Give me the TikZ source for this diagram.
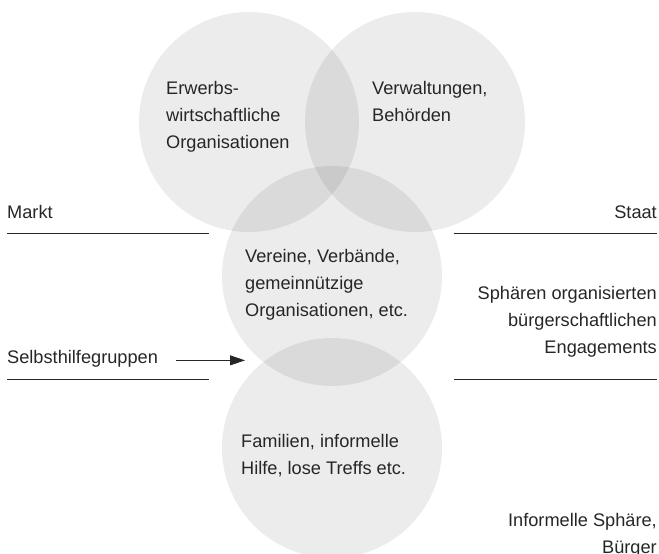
\documentclass[tikz,border=0pt]{standalone}
\usepackage{fontspec}
\setmainfont{Liberation Sans}
\usetikzlibrary{arrows.meta}
\definecolor{txt}{HTML}{262626}
\begin{document}
\begin{tikzpicture}[x=1pt,y=-1pt,
  sphere/.style={circle, minimum size=220pt, inner sep=0pt, fill=black, fill opacity=0.075},
  lbl/.style={font=\fontsize{18.2}{27}\selectfont, text=txt, inner sep=0pt, align=left},
  rlbl/.style={lbl, align=right},
  sepline/.style={draw=txt, line width=0.9pt},
  pointer/.style={draw=txt, line width=0.9pt, -{Triangle[length=15pt,width=10pt]}}]
\useasboundingbox (0,0) rectangle (659,554);
\clip (0,0) rectangle (659,554);
% spheres
\node[sphere] (cmarkt) at (249,122) {};
\node[sphere] (cstaat) at (415,122) {};
\node[sphere] (cverein) at (332,276) {};
\node[sphere] (cfamilie) at (332,448) {};
% texts in spheres (base anchor = baseline of the last line)
\node[lbl, anchor=base west] (erwerb) at (166,148) {Erwerbs-\\wirtschaftliche\\Organisationen};
\node[lbl, anchor=base west] (verwalt) at (372,121) {Verwaltungen,\\Behörden};
\node[lbl, anchor=base west] (verein) at (245,316) {Vereine, Verbände,\\gemeinnützige\\Organisationen, etc.};
\node[lbl, anchor=base west] (familie) at (241,474) {Familien, informelle\\Hilfe, lose Treffs etc.};
% side labels
\node[lbl, anchor=base west] (markt) at (7,218) {Markt};
\node[lbl, anchor=base east] (staat) at (657,218) {Staat};
\node[rlbl, anchor=base east] (spharen) at (657,353) {Sphären organisierten\\bürgerschaftlichen\\Engagements};
\node[lbl, anchor=base west] (selbst) at (7,363) {Selbsthilfegruppen};
\node[rlbl, anchor=base east] (informell) at (657,553) {Informelle Sphäre,\\Bürger};
% separator lines
\coordinate (la1) at (7,233); \coordinate (la2) at (209,233);
\coordinate (ra1) at (454,233); \coordinate (ra2) at (657,233);
\coordinate (lb1) at (7,379); \coordinate (lb2) at (209,379);
\coordinate (rb1) at (454,379); \coordinate (rb2) at (657,379);
\draw[sepline] (la1) -- (la2);
\draw[sepline] (ra1) -- (ra2);
\draw[sepline] (lb1) -- (lb2);
\draw[sepline] (rb1) -- (rb2);
% arrow
\coordinate (tip) at (245,358);
\draw[pointer] ([xshift=18pt]selbst.mid east) -- (tip |- selbst.mid east);
\end{tikzpicture}
\end{document}
